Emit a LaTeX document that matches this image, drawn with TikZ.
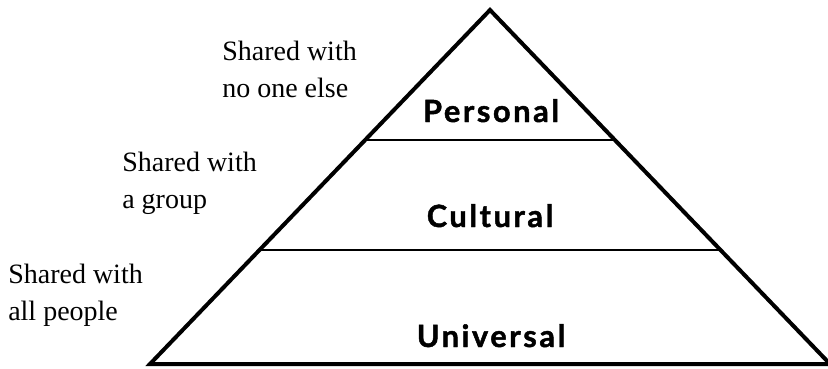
\documentclass[tikz,border=0pt]{standalone}
\usepackage{fontspec}
\usetikzlibrary{calc}
\setmainfont{Liberation Serif}
\newfontfamily\labelfont[LetterSpace=8.5,FakeBold=1.5]{Lato}
\begin{document}
\begin{tikzpicture}[x=0.75pt,y=-0.75pt,
  outline/.style={draw=black,line width=3pt,line join=miter},
  divider/.style={draw=black,line width=1.5pt},
  level/.style={font=\labelfont\bfseries\fontsize{23}{27}\selectfont,inner sep=0pt,anchor=base},
  note/.style={font=\fontsize{21}{27.75}\selectfont,align=left,inner sep=0pt,anchor=base west}]
\useasboundingbox (0,0) rectangle (828,368);
\coordinate (apex) at (490,10);
\coordinate (bl) at (150,364);
\coordinate (br) at (830,364);
\draw[outline] (apex) -- (bl) -- (br) -- cycle;
\coordinate (d1l) at ($(apex)!0.3672!(bl)$);
\coordinate (d1r) at ($(apex)!0.3672!(br)$);
\coordinate (d2l) at ($(apex)!0.678!(bl)$);
\coordinate (d2r) at ($(apex)!0.678!(br)$);
\draw[divider] (d1l) -- (d1r);
\draw[divider] (d2l) -- (d2r);
\node[level] (personal) at (491,122) {Personal};
\node[level] (cultural) at (490,227) {Cultural};
\node[level] (universal) at (491,347) {Universal};
\node[note] (n1) at (222,97) {Shared with\\no one else};
\node[note] (n2) at (122,208) {Shared with\\a group};
\node[note] (n3) at (8,320) {Shared with\\all people};
\end{tikzpicture}
\end{document}
